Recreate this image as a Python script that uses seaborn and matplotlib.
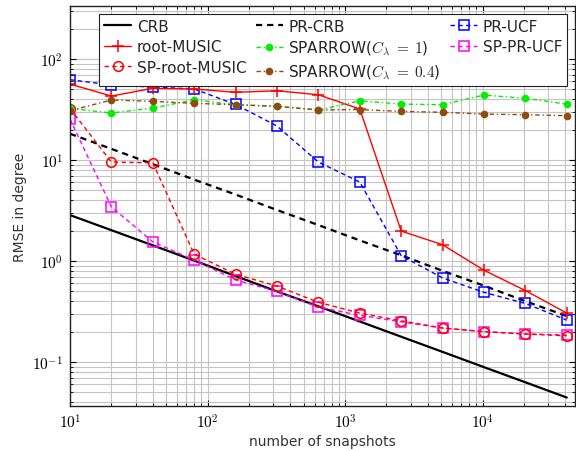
import numpy as np
import pandas as pd
import seaborn as sns
import matplotlib
matplotlib.use("Agg")
import matplotlib.pyplot as plt
from matplotlib.ticker import LogLocator, FuncFormatter, NullFormatter

# snapshots
snapshots = [10, 20, 40, 80, 160, 320, 640, 1280, 2560, 5120, 10240, 20480, 40960]

# RMSE in degree
crb = [2.85, 2.02, 1.43, 1.01, 0.71, 0.50, 0.356, 0.252, 0.178, 0.126, 0.089, 0.063, 0.0445]
pr_crb = [18.2, 12.9, 9.1, 6.4, 4.55, 3.2, 2.27, 1.6, 1.14, 0.8, 0.57, 0.40, 0.285]
root_music = [56.5, 43, 51.3, 50.5, 46.8, 48.5, 44.3, 32, 1.98, 1.45, 0.81, 0.51, 0.305]
sp_root_music = [32.3, 9.55, 9.4, 1.17, 0.74, 0.565, 0.39, 0.305, 0.256, 0.217, 0.20, 0.189, 0.182]
sparrow_1 = [32.5, 29.2, 32.7, 39.5, 35.3, 34.0, 31.3, 38.6, 35.8, 35.3, 44, 40.8, 35.8]
sparrow_04 = [30.8, 39.3, 38.1, 36.4, 35.3, 34.0, 31.3, 31.6, 30.3, 29.7, 28.5, 28.1, 27.5]
pr_ucf = [62.4, 55.3, 52.8, 50.5, 35.5, 21.7, 9.55, 6.05, 1.13, 0.68, 0.49, 0.38, 0.26]
sp_pr_ucf = [25.5, 3.43, 1.55, 1.02, 0.65, 0.50, 0.35, 0.29, 0.25, 0.217, 0.20, 0.19, 0.185]

sns.set_style("ticks")
plt.rcParams["font.family"] = ["DejaVu Sans"]
plt.rcParams["mathtext.fontset"] = "cm"

fig = plt.figure(figsize=(5.76, 4.52), dpi=100)
ax = fig.add_axes([70 / 576, 1 - 407 / 452, 505 / 576, 400 / 452])

brown = "#8f4c0e"
green = "#00ee00"
dash = (0, (3.2, 2.4))
dashdot = (0, (3.2, 2.0, 1, 2.0))
lab_s1 = r"SPARROW($C_\lambda\;=\;1$)"
lab_s04 = r"SPARROW($C_\lambda\;=\;0.4$)"
styles = {
    "CRB": dict(data=crb, color="black", ls="-", lw=1.6, marker=None),
    "PR-CRB": dict(data=pr_crb, color="black", ls=(0, (2.8, 2.2)), lw=1.6, marker=None),
    "PR-UCF": dict(data=pr_ucf, color="blue", ls=dash, lw=1.0, marker="s",
                   ms=7, mfc="none", mec="blue", mew=1.1),
    "SP-PR-UCF": dict(data=sp_pr_ucf, color="magenta", ls=dash, lw=1.0, marker="s",
                      ms=7, mfc="none", mec="magenta", mew=1.1),
    "root-MUSIC": dict(data=root_music, color="red", ls="-", lw=1.0, marker="+",
                       ms=8, mec="red", mew=1.1),
    "SP-root-MUSIC": dict(data=sp_root_music, color="red", ls=dash, lw=1.0, marker="o",
                          ms=7, mfc="none", mec="red", mew=1.1),
    lab_s1: dict(data=sparrow_1, color=green, ls=dashdot,
                 lw=1.0, marker="o", ms=5.5, mec=green, mew=0),
    lab_s04: dict(data=sparrow_04, color=brown, ls=dashdot,
                  lw=1.0, marker="o", ms=5.5, mec=brown, mew=0),
}

for name, st in styles.items():
    kw = {k: v for k, v in st.items() if k != "data"}
    if kw["marker"] is None:
        kw.pop("marker")
    sns.lineplot(x=snapshots, y=st["data"], ax=ax, label=name, **kw)

ax.set_xscale("log")
ax.set_yscale("log")
ax.set_xlim(10, 4.7e4)
ax.set_ylim(0.0367, 335)

fmt = FuncFormatter(lambda v, p: r"$10^{%d}$" % int(round(np.log10(v))))
for axis in (ax.xaxis, ax.yaxis):
    axis.set_major_locator(LogLocator(base=10, numticks=10))
    axis.set_minor_locator(LogLocator(base=10, subs=np.arange(2, 10), numticks=20))
    axis.set_major_formatter(fmt)
    axis.set_minor_formatter(NullFormatter())

ax.grid(True, which="both", color="#c4c4c4", lw=0.8)
ax.set_axisbelow(True)
ax.tick_params(which="both", direction="in", top=True, right=True, labelsize=11, colors="black")
ax.tick_params(which="major", length=4, width=0.8, pad=5)
ax.tick_params(which="minor", length=2, width=0.6)
for s in ax.spines.values():
    s.set_linewidth(1.0)
    s.set_color("#222222")

ax.set_xlabel("number of snapshots", fontsize=10, color="#333333", labelpad=2)
ax.set_ylabel("RMSE in degree", fontsize=10, color="#333333", labelpad=4)

order = ["CRB", "root-MUSIC", "SP-root-MUSIC", "PR-CRB", lab_s1, lab_s04,
         "PR-UCF", "SP-PR-UCF"]
handles, labels = ax.get_legend_handles_labels()
hmap = dict(zip(labels, handles))
leg = ax.legend([hmap[l] for l in order], order, ncol=3, loc="upper right",
                bbox_to_anchor=(0.984, 0.98), fontsize=11, frameon=True, fancybox=False,
                framealpha=1, edgecolor="#222222", borderpad=0.3, labelspacing=0.36,
                handlelength=1.8, handletextpad=0.35, columnspacing=0.6, borderaxespad=0)
leg.get_frame().set_linewidth(0.8)

plt.savefig("out.png", dpi=100)
plt.close()
